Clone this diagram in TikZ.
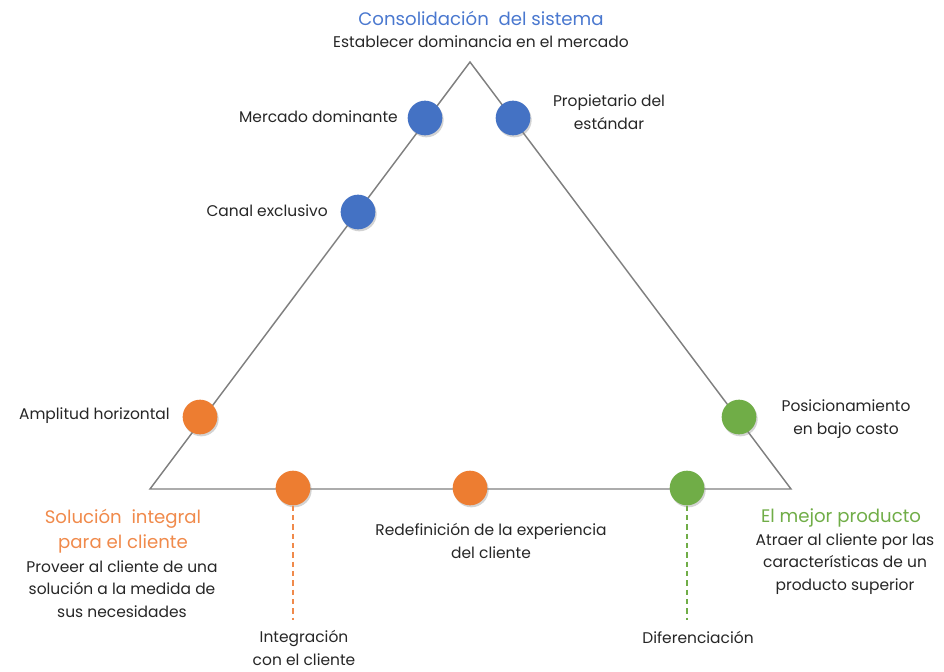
\documentclass[tikz,border=0pt]{standalone}
\usepackage{fontspec}
\setmainfont{Poppins}
\usetikzlibrary{shadows}
\definecolor{cblue}{HTML}{4472C4}
\definecolor{corange}{HTML}{ED7D31}
\definecolor{cgreen}{HTML}{70AD47}
\definecolor{tblue}{HTML}{4A78CF}
\definecolor{torange}{HTML}{F08A4B}
\definecolor{tgreen}{HTML}{70AD47}
\definecolor{edge}{HTML}{808080}
\begin{document}
\begin{tikzpicture}[x=0.75pt,y=-0.75pt,
  dot/.style={circle,minimum size=26pt,inner sep=0pt,drop shadow={opacity=0.35,shadow xshift=1pt,shadow yshift=-1.5pt}},
  lbl/.style={font=\fontsize{11.6}{17}\selectfont,text=black!85,align=center,inner sep=0pt},
  ttl/.style={font=\fontsize{13.6}{18.8}\selectfont,align=center,inner sep=0pt},
  link/.style={dashed,line width=0.9pt,dash pattern=on 4pt off 3pt}]
\useasboundingbox (0,0) rectangle (944,671);
\coordinate (T) at (470,62);
\coordinate (L) at (150,489);
\coordinate (R) at (791,489);
\draw[edge,line width=1.1pt,line join=miter] (T) -- (L) -- (R) -- cycle;
% dots
\node[dot,fill=cblue] (d1) at (425,118) {};
\node[dot,fill=cblue] (d2) at (513,118) {};
\node[dot,fill=cblue] (d3) at (358,212) {};
\node[dot,fill=corange] (d4) at (200,417) {};
\node[dot,fill=corange] (d5) at (293,488) {};
\node[dot,fill=corange] (d6) at (470,488) {};
\node[dot,fill=cgreen] (d7) at (739,417) {};
\node[dot,fill=cgreen] (d8) at (687,488) {};
% dashed links
\coordinate (e5) at (293,620);
\coordinate (e8) at (687,620);
\draw[link,color=torange] (d5.south) -- (e5);
\draw[link,color=cgreen] (d8.south) -- (e8);
% titles
\node[ttl,text=tblue] (t1) at (481,18) {Consolidación\ \ del sistema};
\node[lbl] (s1) at (481,42) {Establecer dominancia en el mercado};
\node[ttl,text=torange] (t2) at (123,531) {Solución\ \ integral\\para el cliente};
\node[lbl] (s2) at (122,589) {Proveer al cliente de una\\solución a la medida de\\sus necesidades};
\node[ttl,text=tgreen] (t3) at (841,518) {El mejor producto};
\node[lbl] (s3) at (845,564) {Atraer al cliente por las\\características de un\\producto superior};
% labels
\node[lbl,anchor=east] (l1) at (398,117) {Mercado dominante};
\node[lbl] (l2) at (609,112) {Propietario del\\estándar};
\node[lbl,anchor=east] (l3) at (328,211) {Canal exclusivo};
\node[lbl,anchor=east] (l4) at (170,416) {Amplitud horizontal};
\node[lbl] (l5) at (846,419) {Posicionamiento\\en bajo costo};
\node[lbl] (l6) at (491,541) {Redefinición de la experiencia\\del cliente};
\node[lbl] (l7) at (304,648) {Integración\\con el cliente};
\node[lbl] (l8) at (698,637) {Diferenciación};
\end{tikzpicture}
\end{document}
